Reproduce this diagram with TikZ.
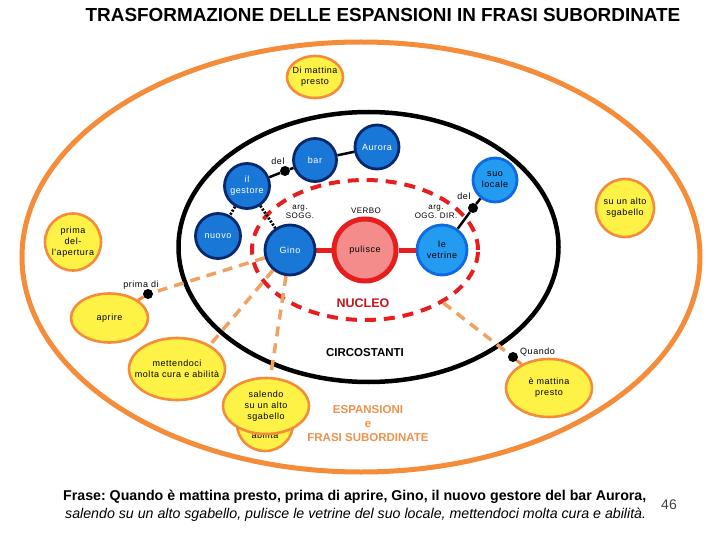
\documentclass[tikz,border=0pt]{standalone}
\usepackage{fontspec}
\setmainfont{Liberation Sans}
\newfontfamily\wide[LetterSpace=6]{Liberation Sans}
\usetikzlibrary{shapes.geometric}
\pgfdeclarelayer{bg}
\pgfsetlayers{bg,main}
\frenchspacing
\definecolor{orgline}{RGB}{244,140,58}
\definecolor{orgdash}{RGB}{240,162,98}
\definecolor{yelfill}{RGB}{255,242,70}
\definecolor{bluefill}{RGB}{25,120,215}
\definecolor{blueedge}{RGB}{8,40,110}
\definecolor{lbluefill}{RGB}{35,155,240}
\definecolor{lblueedge}{RGB}{15,105,225}
\definecolor{pinkfill}{RGB}{245,140,140}
\definecolor{redline}{RGB}{230,30,30}
\definecolor{nucleocol}{RGB}{200,20,25}
\definecolor{esptext}{RGB}{238,145,75}
\begin{document}
\begin{tikzpicture}[x=1pt,y=-1pt,
  yel/.style={ellipse, draw=orgline, fill=yelfill, line width=2.6pt, inner sep=0pt},
  ytxt/.style={font=\wide\fontsize{9}{10.8}\selectfont, align=center, inner sep=0pt, text=black},
  bnode/.style={circle, draw=blueedge, fill=bluefill, line width=2.8pt, inner sep=0pt, minimum size=#1,
    font=\wide\fontsize{9}{10.8}\selectfont, text=white, align=center},
  lbnode/.style={circle, draw=lblueedge, fill=lbluefill, line width=2.8pt, inner sep=0pt, minimum size=#1,
    font=\wide\fontsize{9}{10.8}\selectfont, text=black, align=center},
  vnode/.style={circle, draw=redline, fill=pinkfill, line width=5pt, inner sep=0pt, minimum size=#1,
    font=\wide\fontsize{9}{10.8}\selectfont, text=black, align=center},
  dotnode/.style={circle, fill=black, minimum size=10pt, inner sep=0pt},
  smalltxt/.style={font=\wide\fontsize{8}{8.5}\selectfont, align=center, inner sep=0pt},
  reltxt/.style={font=\wide\fontsize{9}{10}\selectfont, inner sep=0pt},
  odash/.style={draw=orgdash, line width=3.5pt, dash pattern=on 10pt off 7pt},
  osolid/.style={draw=orgline, line width=3pt},
  blink/.style={draw=black, line width=2.5pt},
  bdot/.style={draw=black, line width=2.8pt, dash pattern=on 2pt off 1.6pt},
  rlink/.style={draw=redline, line width=5pt},
  bottomtxt/.style={anchor=west, inner sep=0pt}
]
\useasboundingbox (0,0) rectangle (720,540);

\begin{pgfonlayer}{bg}
  \draw[orgline, line width=5pt] (361,257) ellipse [x radius=339pt, y radius=215pt];
  \draw[black, line width=4.5pt] (368.5,247) ellipse [x radius=190pt, y radius=135pt];
  \node[ellipse, draw=redline, line width=4pt, dash pattern=on 11pt off 8pt,
        minimum width=226pt, minimum height=140pt, inner sep=0pt] (nuc) at (365,250) {};
\end{pgfonlayer}

% title
\node[font=\bfseries\fontsize{18.9}{22}\selectfont, inner sep=0pt] (title) at (383,15)
  {TRASFORMAZIONE DELLE ESPANSIONI IN FRASI SUBORDINATE};

% yellow expansion nodes
\node[yel, minimum width=56pt, minimum height=42pt, label={[ytxt]center:{Di mattina\\presto}}] (dmp) at (315,77) {};
\node[yel, minimum width=56pt, minimum height=57pt, label={[ytxt]center:{prima\\del-\\l'apertura}}] (pda) at (73,242) {};
\node[yel, minimum width=58pt, minimum height=58pt, label={[ytxt]center:{su un alto\\sgabello}}] (sua) at (625,208) {};
\node[yel, minimum width=77pt, minimum height=49pt, label={[ytxt]center:{aprire}}] (apr) at (109.5,318) {};
\node[yel, minimum width=96pt, minimum height=62pt, label={[ytxt]center:{mettendoci\\molta cura e abilità}}] (mett) at (177,369) {};
\node[yel, minimum width=56pt, minimum height=54pt] (abil) at (265,424) {};
\node[ytxt] (abiltxt) at (265,435) {abilità};
\node[yel, minimum width=86pt, minimum height=56pt, label={[ytxt]center:{salendo\\su un alto\\sgabello}}] (sal) at (266,406) {};
\node[yel, minimum width=86pt, minimum height=58pt, label={[ytxt]center:{è mattina\\presto}}] (emp) at (549,388) {};

% blue nodes
\node[bnode=50pt] (gino) at (290,250) {Gino};
\node[vnode=62pt] (pul) at (365,250) {pulisce};
\node[lbnode=50pt] (vet) at (442,250) {le\\vetrine};
\node[lbnode=44pt] (suo) at (495,180) {suo\\locale};
\node[bnode=45pt] (gest) at (247,186) {il\\gestore};
\node[bnode=45pt] (nuovo) at (218,236) {nuovo};
\node[bnode=43pt] (bar) at (315,160) {bar};
\node[bnode=44pt] (aur) at (377,147) {Aurora};

% dots
\node[dotnode] (d1) at (285,171) {};
\node[dotnode] (d2) at (473,208) {};
\node[dotnode] (pdot) at (148,294) {};
\node[dotnode] (qdot) at (513,357) {};

% small labels
\node[reltxt] (del1) at (278,161) {del};
\node[reltxt] (del2) at (464,196) {del};
\node[reltxt] (primadi) at (141,285) {prima di};
\node[reltxt, anchor=west] (quando) at (520,352) {Quando};
\node[smalltxt] (argsogg) at (300,212) {arg.\\SOGG.};
\node[smalltxt] (verbo) at (366,211) {VERBO};
\node[smalltxt] (argogg) at (436,212) {arg.\\OGG. DIR.};

\node[font=\bfseries\fontsize{12.5}{14}\selectfont, text=nucleocol, inner sep=0pt] (nucleo) at (363,303) {NUCLEO};
\node[font=\bfseries\fontsize{11.5}{13}\selectfont, inner sep=0pt] (circ) at (365,353) {CIRCOSTANTI};
\node[font=\bfseries\fontsize{11.5}{14}\selectfont, text=esptext, align=center, inner sep=0pt] (esp) at (368,424)
  {ESPANSIONI\\e\\FRASI SUBORDINATE};

% bottom sentence
\node[bottomtxt, font=\bfseries\fontsize{14.2}{16}\selectfont] (f1) at (63,497)
  {Frase: Quando è mattina presto, prima di aprire, Gino, il nuovo gestore del bar Aurora,};
\node[bottomtxt, font=\itshape\fontsize{14.2}{16}\selectfont] (f2) at (65,515)
  {salendo su un alto sgabello, pulisce le vetrine del suo locale, mettendoci molta cura e abilità.};
\node[font=\fontsize{14}{16}\selectfont, text=black!75, inner sep=0pt] (pagenum) at (669,505) {46};

% connectors
\begin{pgfonlayer}{bg}
  \draw[odash] (gino) -- (pdot);
  \draw[odash] (gino) -- (mett.36);
  \draw[odash] (gino) -- (sal);
  \draw[odash] (nuc.-34) -- (qdot);
  \draw[osolid] (pdot) -- (apr);
  \draw[osolid] (qdot) -- (emp);
  \draw[blink] (gest) -- (d1) -- (bar);
  \draw[blink] (bar) -- (aur);
  \draw[blink] (vet) -- (d2) -- (suo);
  \draw[bdot] (gest) -- (nuovo);
  \draw[bdot] (gest) -- (gino);
  \draw[rlink] (gino) -- (pul);
  \draw[rlink] (pul) -- (vet);
\end{pgfonlayer}
\end{tikzpicture}
\end{document}
